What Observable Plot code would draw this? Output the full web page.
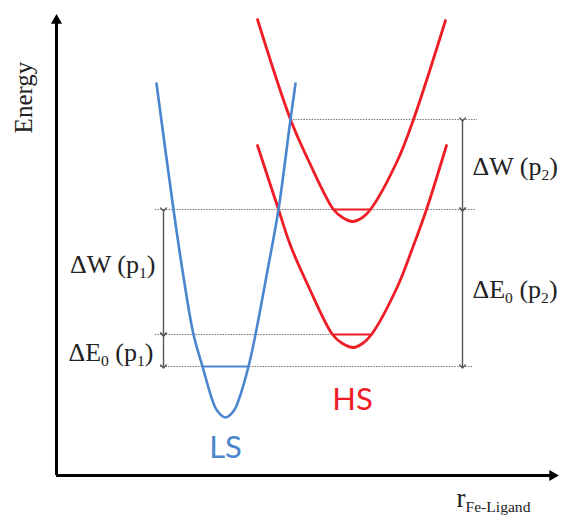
<!DOCTYPE html>
<html>
<head>
<meta charset="utf-8">
<script src="https://cdn.jsdelivr.net/npm/d3@7"></script>
<script src="https://cdn.jsdelivr.net/npm/@observablehq/plot@0.6"></script>
<style>
  html, body { margin: 0; padding: 0; background: #fff; }
  #chart svg { display: block; }
</style>
</head>
<body>
<div id="chart"></div>
<script>
// Schematic coordinates: r = Fe–ligand distance (arb. units), E = energy (arb. units)
const LS_r = [100, 117, 126, 137, 146, 156, 160.5, 169, 177.5, 182, 192, 199, 211, 222, 234, 239];
const LS_E = [392, 266, 205, 141, 109, 75, 65, 58, 65, 75, 109, 141, 205, 266, 356, 392];

const HS2_r = [201, 234, 252, 277, 286, 296, 306, 314, 341, 357, 389];
const HS2_E = [456, 356, 315, 266, 258, 254, 258, 266, 315, 356, 455];

const HS1_r = [201, 222, 234, 252, 276, 286, 297, 306, 315, 341, 357, 370, 390];
const HS1_E = [330, 266, 230, 189, 141, 132, 128, 132, 141, 189, 230, 266, 330];

// dotted reference energy levels
const levelE  = [356, 266, 141, 109];
const levelR1 = [234, 99, 99, 104];
const levelR2 = [421, 419, 276, 417];

// vibrational ground levels (solid short lines)
const groundE  = [109, 266, 141];
const groundR1 = [146, 277, 276];
const groundR2 = [192, 314, 315];
const groundSpin = ["LS", "HS", "HS"];

// double arrows
const arrowR  = [107, 107, 406, 406];
const arrowE1 = [266, 141, 356, 266];
const arrowE2 = [141, 109, 266, 109];

// label texts
const labelText   = ["ΔW (p_{1})", "ΔE_{0} (p_{1})", "ΔW (p_{2})", "ΔE_{0} (p_{2})"];
const labelR      = [99, 97, 416, 416];
const labelE      = [203, 115, 301, 178];
const labelAnchor = ["end", "end", "start", "start"];

const spinText = ["LS", "HS"];
const spinR = [169, 296];
const spinE = [18, 66];

// axes
const axisTipR = 504;
const axisTipE = 463;

const BLUE = "#4a86cf";
const RED = "#ee1c24";
const GRAY = "#555";

const pts = (rs, es) => rs.map((r, i) => ({r, E: es[i]}));
const ls = pts(LS_r, LS_E);
const hs1 = pts(HS1_r, HS1_E);
const hs2 = pts(HS2_r, HS2_E);
const levels = levelE.map((E, i) => ({E, r1: levelR1[i], r2: levelR2[i]}));
const grounds = groundE.map((E, i) => ({E, r1: groundR1[i], r2: groundR2[i], spin: groundSpin[i]}));
const arrows = arrowR.map((r, i) => ({r, E1: arrowE1[i], E2: arrowE2[i]}));
const labels = labelText.map((t, i) => ({t, r: labelR[i], E: labelE[i], a: labelAnchor[i]}));
const spins = spinText.map((t, i) => ({t, r: spinR[i], E: spinE[i]}));

const serif = "'Liberation Serif', 'DejaVu Serif', serif";
const sans = "Lato, 'Open Sans', sans-serif";

const svg = Plot.plot({
  width: 562,
  height: 516,
  margin: 0,
  x: {domain: [-56, 506], range: [0, 562]},
  y: {domain: [-41, 475], range: [516, 0]},
  axis: null,
  marks: [
    // dotted levels
    Plot.ruleY(levels, {y: "E", x1: "r1", x2: "r2", stroke: "#777", strokeWidth: 1.2, strokeDasharray: "1.5,1.2"}),
    // potential curves
    Plot.line(hs2, {x: "r", y: "E", stroke: RED, strokeWidth: 2.8, curve: "catmull-rom"}),
    Plot.line(hs1, {x: "r", y: "E", stroke: RED, strokeWidth: 2.8, curve: "catmull-rom"}),
    Plot.line(ls, {x: "r", y: "E", stroke: BLUE, strokeWidth: 2.6, curve: "catmull-rom"}),
    // ground levels
    Plot.ruleY(grounds, {y: "E", x1: "r1", x2: "r2", stroke: d => d.spin === "LS" ? BLUE : RED, strokeWidth: 2.2}),
    // double arrows
    Plot.link(arrows, {x1: "r", x2: "r", y1: "E1", y2: "E2", stroke: GRAY, strokeWidth: 1.4, markerStart: "arrow", markerEnd: "arrow"}),
    // axes
    Plot.ruleX([0], {y1: 0, y2: axisTipE - 8, stroke: "#000", strokeWidth: 3}),
    Plot.ruleY([0], {x1: 0, x2: axisTipR - 8, stroke: "#000", strokeWidth: 3}),
    Plot.dot([{r: 0, E: axisTipE - 8}], {x: "r", y: "E", symbol: "triangle2", r: 5.3, fill: "#000"}),
    Plot.dot([{r: axisTipR - 8, E: 0}], {x: "r", y: "E", symbol: "triangle2", r: 5.3, fill: "#000", rotate: 90}),
    // labels
    Plot.text(labels, {x: "r", y: "E", text: "t", textAnchor: "start", lineAnchor: "bottom", fontSize: 26, fontFamily: serif, fill: "#222", filter: d => d.a === "start"}),
    Plot.text(labels, {x: "r", y: "E", text: "t", textAnchor: "end", lineAnchor: "bottom", fontSize: 26, fontFamily: serif, fill: "#222", filter: d => d.a === "end"}),
    Plot.text(spins, {x: "r", y: "E", text: "t", lineAnchor: "bottom", fontSize: 31, fontFamily: sans, fill: (d) => d.t === "LS" ? BLUE : RED}),
    Plot.text(["Energy"], {x: -33, y: 378, text: d => d, rotate: -90, fontSize: 25, fontFamily: serif, fill: "#222"}),
    Plot.text(["r_{Fe-Ligand}"], {x: 400, y: -31, text: d => d, textAnchor: "start", lineAnchor: "bottom", fontSize: 27, fontFamily: serif, fill: "#222"})
  ]
});

// render subscripts written as _{...}
d3.select(svg).selectAll("text").each(function() {
  const el = this;
  const s = el.textContent;
  if (!s.includes("_{")) return;
  const fs = parseFloat(getComputedStyle(el).fontSize) || 26;
  const shift = 0.2 * fs;
  const parts = s.split(/(_\{[^}]*\})/).filter(p => p.length);
  el.textContent = "";
  let pending = 0;
  for (const p of parts) {
    const t = document.createElementNS("http://www.w3.org/2000/svg", "tspan");
    if (p.startsWith("_{")) {
      t.textContent = p.slice(2, -1);
      t.setAttribute("font-size", (fs * 0.6) + "px");
      t.setAttribute("dy", shift + "px");
      pending = shift;
    } else {
      t.textContent = p;
      if (pending) { t.setAttribute("dy", (-pending) + "px"); pending = 0; }
    }
    el.appendChild(t);
  }
});

document.getElementById("chart").appendChild(svg);
</script>
</body>
</html>
